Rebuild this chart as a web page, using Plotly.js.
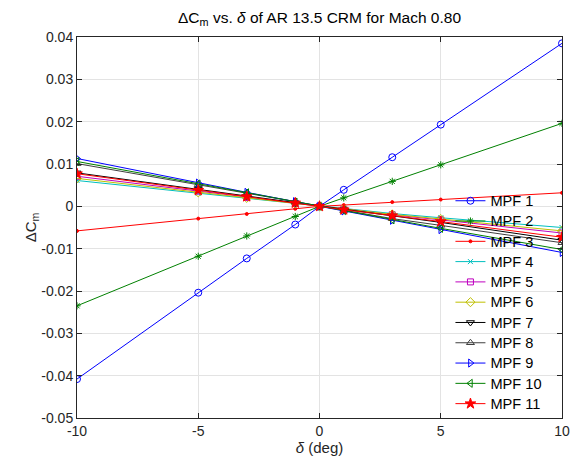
<!DOCTYPE html>
<html>
<head>
<meta charset="utf-8">
<script src="https://cdn.plot.ly/plotly-3.0.1.min.js"></script>
<style>html,body{margin:0;padding:0;background:#fff;}#chart{width:570px;height:468px;}</style>
</head>
<body>
<div id="chart"></div>
<script>
const delta = [-10, -5, -3, -1, 0, 1, 3, 5, 10];
const seriesNames = ["MPF 1","MPF 2","MPF 3","MPF 4","MPF 5","MPF 6","MPF 7","MPF 8","MPF 9","MPF 10","MPF 11"];
const mpf1  = [-0.0408, -0.0204, -0.0123, -0.0043, 0,  0.0039,  0.0116,  0.0193,  0.0385];
const mpf2  = [-0.0235, -0.0118, -0.0070, -0.0024, 0,  0.0020,  0.0059,  0.0098,  0.0196];
const mpf3  = [-0.0058, -0.0029, -0.0018, -0.0006, 0,  0.0003,  0.0010,  0.0016,  0.0032];
const mpf4  = [ 0.0061,  0.0031,  0.0019,  0.0006, 0, -0.0006, -0.0017, -0.0027, -0.0050];
const mpf5  = [ 0.0071,  0.0036,  0.0021,  0.0007, 0, -0.0007, -0.0020, -0.0032, -0.0063];
const mpf6  = [ 0.0066,  0.0033,  0.0020,  0.0007, 0, -0.0006, -0.0019, -0.0030, -0.0058];
const mpf7  = [ 0.0079,  0.0040,  0.0024,  0.0008, 0, -0.0008, -0.0023, -0.0038, -0.0080];
const mpf8  = [ 0.0101,  0.0051,  0.0030,  0.0010, 0, -0.0010, -0.0029, -0.0045, -0.0086];
const mpf9  = [ 0.0113,  0.0055,  0.0033,  0.0011, 0, -0.0011, -0.0033, -0.0055, -0.0109];
const mpf10 = [ 0.0106,  0.0053,  0.0032,  0.0010, 0, -0.0010, -0.0032, -0.0052, -0.0102];
const mpf11 = [ 0.0077,  0.0038,  0.0023,  0.0008, 0, -0.0008, -0.0022, -0.0036, -0.0073];
const xTickVals = [-10, -5, 0, 5, 10];
const xTickText = ["-10", "-5", "0", "5", "10"];
const yTickVals = [-0.05, -0.04, -0.03, -0.02, -0.01, 0, 0.01, 0.02, 0.03, 0.04];
const yTickText = ["-0.05", "-0.04", "-0.03", "-0.02", "-0.01", "0", "0.01", "0.02", "0.03", "0.04"];

const allY = [mpf1, mpf2, mpf3, mpf4, mpf5, mpf6, mpf7, mpf8, mpf9, mpf10, mpf11];
const colors = ["#0000ff","#008000","#ff0000","#00bfbf","#bf00bf","#bfbf00","#000000","#404040","#0000ff","#008000","#ff0000"];
const symbols = ["circle-open","asterisk-open","circle","x-thin-open","square-open","diamond-open","triangle-down-open","triangle-up-open","triangle-right-open","triangle-left-open","star"];
const sizes = [7, 6, 3, 5, 6, 7, 7, 7, 7, 7, 8];

const traces = allY.map((y, i) => ({
  x: delta, y: y, name: '<span style="font-size:14.6px">' + seriesNames[i] + '</span>', type: "scatter", mode: "lines+markers",
  line: {color: colors[i], width: 1},
  marker: {symbol: symbols[i], size: sizes[i], color: colors[i], line: {color: colors[i], width: 1}}
}));

const fam = "Liberation Sans, Arial, sans-serif";
const axisFont = {family: fam, size: 14, color: "#262626"};
const titleFont = {family: fam, size: 15, color: "#262626"};
const layout = {
  width: 570, height: 468,
  margin: {l: 77, r: 8, t: 37, b: 50},
  paper_bgcolor: "#ffffff", plot_bgcolor: "#ffffff",
  font: axisFont,
  title: {text: "ΔC<sub>m</sub> vs. <i>δ</i> of AR 13.5 CRM for Mach 0.80", x: 0.5, xref: "paper", xanchor: "center", yref: "container", y: 0.962, yanchor: "middle", font: {family: fam, size: 15.5, color: "#000"}},
  xaxis: {range: [-10, 10], tickvals: xTickVals, ticktext: xTickText, ticks: "inside", ticklen: 5, tickcolor: "#262626",
    showline: true, linecolor: "#262626", linewidth: 1, mirror: "ticks", showgrid: true, gridcolor: "#e3e3e3", zeroline: false,
    tickfont: axisFont, title: {text: "<i>δ</i> (deg)", font: titleFont, standoff: 4}},
  yaxis: {range: [-0.05, 0.04], tickvals: yTickVals, ticktext: yTickText, ticks: "inside", ticklen: 5, tickcolor: "#262626",
    showline: true, linecolor: "#262626", linewidth: 1, mirror: "ticks", showgrid: true, gridcolor: "#e3e3e3", zeroline: false,
    tickfont: axisFont, title: {text: "ΔC<sub>m</sub>", font: titleFont, standoff: 1}},
  legend: {x: 0.77, y: 0.61, xanchor: "left", yanchor: "top", bgcolor: "rgba(0,0,0,0)", borderwidth: 0,
    font: {family: fam, size: 13.3, color: "#000"}},
  showlegend: true
};
Plotly.newPlot("chart", traces, layout, {displayModeBar: false, staticPlot: true});
</script>
</body>
</html>
